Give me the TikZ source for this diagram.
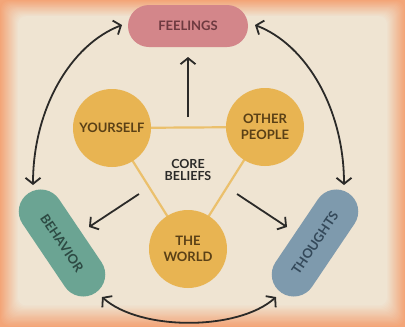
\documentclass[tikz,border=0pt]{standalone}
\usepackage{fontspec}
\setmainfont{Lato}
\usetikzlibrary{arrows.meta}
\definecolor{cbcream}{HTML}{EFE4D2}
\definecolor{cbpeach}{HTML}{F3A578}
\definecolor{cbgold}{HTML}{E8B452}
\definecolor{cbgoldline}{HTML}{EBC06C}
\definecolor{cbrose}{HTML}{D3868A}
\definecolor{cbteal}{HTML}{6BA493}
\definecolor{cbslate}{HTML}{7E9AAD}
\definecolor{cbink}{HTML}{2B2A28}
\definecolor{cbbrown}{HTML}{5A4016}
\definecolor{cbmaroon}{HTML}{6E3A40}
\definecolor{cbdteal}{HTML}{2D4A43}
\definecolor{cbdslate}{HTML}{34495A}
\begin{document}
\begin{tikzpicture}[x=1pt,y=-1pt,
  belief/.style={circle,fill=cbgold,minimum size=78pt,inner sep=0pt,align=center,
    font=\bfseries\fontsize{13}{16}\selectfont,text=cbbrown},
  pill/.style={rounded corners=21pt,minimum width=120pt,minimum height=42pt,inner sep=0pt,
    font=\bfseries\fontsize{13}{15}\selectfont},
  tie/.style={draw=cbgoldline,line width=2.2pt},
  conn/.style={draw=cbink,line width=1.8pt,-{Straight Barb[length=6pt,width=15pt]}},
  biconn/.style={draw=cbink,line width=1.8pt,{Straight Barb[length=6pt,width=15pt]}-{Straight Barb[length=6pt,width=15pt]}}
]
\useasboundingbox (0,0) rectangle (405,327);
% background with soft orange border
\fill[cbpeach] (0,0) rectangle (405,327);
\foreach \i in {1,...,18}{
  \pgfmathsetmacro\p{100*\i/18}
  \fill[cbcream!\p!cbpeach, rounded corners=8pt] (\i,0.9*\i) rectangle (405-\i,327-1.2*\i);
}
% core beliefs triangle
\coordinate (cy) at (112,128);
\coordinate (co) at (265,127);
\coordinate (cw) at (188,249);
\draw[tie] (cy) -- (co) -- (cw) -- cycle;
\node[belief] (yourself) at (cy) {YOURSELF};
\node[belief] (other) at (co) {OTHER\\PEOPLE};
\node[belief] (world) at (cw) {THE\\WORLD};
\node[align=center,font=\bfseries\fontsize{12.5}{12.5}\selectfont,text=cbink] (core) at (188,170) {CORE\\BELIEFS};
% outer pills
\node[pill,fill=cbrose,text=cbmaroon] (feel) at (188,26) {FEELINGS};
\node[pill,fill=cbteal,text=cbdteal,minimum height=44pt,rounded corners=22pt,rotate=-56] (beh) at (62,243) {BEHAVIOR};
\node[pill,fill=cbslate,text=cbdslate,minimum height=44pt,rounded corners=22pt,rotate=56] (thou) at (315,243) {THOUGHTS};
% arrows from core
\coordinate (uA) at (188,117);
\coordinate (uB) at (188,57);
\coordinate (lA) at (139,194);
\coordinate (lB) at (89,227);
\coordinate (rA) at (237,194);
\coordinate (rB) at (287,227);
\draw[conn] (uA) -- (uB);
\draw[conn] (lA) -- (lB);
\draw[conn] (rA) -- (rB);
% cycle arrows
\coordinate (fl) at (122,25);
\coordinate (fr) at (255,25);
\coordinate (bt) at (33,185);
\coordinate (tt) at (344,185);
\coordinate (bb) at (102,297);
\coordinate (tb) at (276,297);
\draw[biconn] (bt) .. controls (33,110) and (70,45) .. (fl);
\draw[biconn] (tt) .. controls (344,110) and (307,45) .. (fr);
\draw[biconn] (bb) .. controls (140,331) and (238,331) .. (tb);
\end{tikzpicture}
\end{document}
